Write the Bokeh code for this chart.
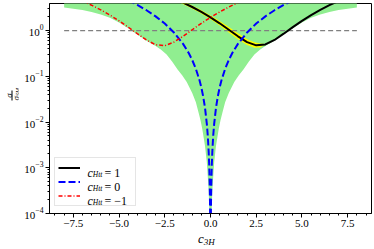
import numpy as np
from bokeh.plotting import figure
from bokeh.layouts import column, row
from bokeh.models import (Range1d, Label, Legend, LegendItem, SingleIntervalTicker,
                          CustomJSTickFormatter, Div)
from bokeh.embed import file_html
from bokeh.resources import INLINE

# ---- data ----
c_black = [-2.0, -1.5, -1.0, -0.5, 0.0, 0.5, 1.0, 1.5, 2.0, 2.5, 3.0, 3.5, 4.0, 4.5,
           5.0, 5.5, 6.0, 6.5, 7.0, 7.5]
v_black = [5.01, 4.09, 3.27, 2.55, 1.94, 1.44, 1.04, 0.748, 0.559, 0.475, 0.496, 0.622,
           0.853, 1.19, 1.63, 2.18, 2.83, 3.58, 4.44, 5.41]

c_blue = [-4.5, -4.0, -3.5, -3.0, -2.5, -2.0, -1.5, -1.2, -1.0, -0.8, -0.6, -0.5, -0.4,
          -0.3, -0.2, -0.15, -0.1, -0.07, -0.05, -0.035, -0.025, -0.015,
          0.015, 0.025, 0.035, 0.05, 0.07, 0.1, 0.15, 0.2, 0.3, 0.4, 0.5, 0.6, 0.8,
          1.0, 1.2, 1.5, 2.0, 2.5, 3.0, 3.5, 4.0, 4.5]
v_blue = [4.60, 3.63, 2.78, 2.04, 1.42, 0.908, 0.511, 0.327, 0.227, 0.145, 0.0817, 0.0568,
          0.0363, 0.0204, 0.00908, 0.00511, 0.00227, 0.00111, 0.000568, 0.000278,
          0.000142, 0.0000511,
          0.0000511, 0.000142, 0.000278, 0.000568, 0.00111, 0.00227, 0.00511, 0.00908,
          0.0204, 0.0363, 0.0568, 0.0817, 0.145, 0.227, 0.327, 0.511, 0.908, 1.42, 2.04,
          2.78, 3.63, 4.60]

c_red = [-7.5, -7.0, -6.5, -6.0, -5.5, -5.0, -4.5, -4.0, -3.5, -3.0, -2.5, -2.0, -1.5,
         -1.0, -0.5, 0.0, 0.5, 1.0, 1.5, 2.0]
v_red = [5.41, 4.44, 3.58, 2.83, 2.18, 1.63, 1.19, 0.853, 0.622, 0.49, 0.465, 0.559,
         0.748, 1.04, 1.44, 1.94, 2.55, 3.27, 4.09, 5.01]

c_band = [-8.0, -7.5, -7.0, -6.5, -6.0, -5.5, -5.0, -4.5, -4.0, -3.5, -3.0, -2.7, -2.4,
          -2.1, -1.8, -1.55, -1.3, -1.0, -0.8, -0.65, -0.55, -0.45, -0.3, -0.2, -0.1,
          -0.05, -0.02,
          0.02, 0.05, 0.1, 0.2, 0.3, 0.45, 0.55, 0.65, 0.8, 1.0, 1.3, 1.55, 1.8, 2.1,
          2.4, 2.7, 3.0, 3.5, 4.0, 4.5, 5.0, 5.5, 6.0, 6.5, 7.0, 7.5, 8.0]
v_band_lo = [3.20, 3.00, 2.80, 2.55, 2.25, 1.90, 1.50, 1.12, 0.82, 0.60, 0.46, 0.38, 0.30,
             0.21, 0.14, 0.105, 0.075, 0.043, 0.027, 0.016, 0.011, 0.007, 0.003, 0.0013,
             0.00032, 0.00008, 0.000013,
             0.000013, 0.00008, 0.00032, 0.0013, 0.003, 0.007, 0.011, 0.016, 0.027,
             0.043, 0.075, 0.105, 0.14, 0.21, 0.30, 0.38, 0.46, 0.60, 0.82, 1.12, 1.50,
             1.90, 2.25, 2.55, 2.80, 3.00, 3.20]
v_band_hi = [20.0] * len(c_band)

c_yel = [-1.8, -1.2, -0.6, 0.0, 0.5, 1.0, 1.5, 2.0, 2.4, 2.7, 3.0]
v_yel_lo = [4.33, 3.31, 2.47, 1.76, 1.29, 0.91, 0.645, 0.482, 0.42, 0.428, 0.486]
v_yel_hi = [4.95, 3.87, 2.93, 2.13, 1.61, 1.19, 0.868, 0.648, 0.555, 0.518, 0.506]

c_ref = [-8.0, 8.0]
v_ref = [1.0, 1.0]

legend_values = ["1", "0", "\u22121"]

SERIF = "Liberation Serif"

p = figure(width=356, height=233, x_range=Range1d(-8.8, 8.8), y_range=Range1d(1e-4, 3.9),
           y_axis_type="log", output_backend="svg", toolbar_location=None,
           min_border_left=31, min_border_right=3, min_border_top=3, min_border_bottom=20)
p.grid.visible = False
p.outline_line_color = "black"
p.outline_line_alpha = 1.0
p.outline_line_width = 1
p.background_fill_color = "white"

p.xaxis.ticker = SingleIntervalTicker(interval=2.5, num_minor_ticks=5)
p.xaxis.formatter = CustomJSTickFormatter(
    code="return (tick < -1e-9 ? '\\u2212' : '') + Math.abs(tick).toFixed(1);")

for ax in (p.xaxis[0], p.yaxis[0]):
    ax.major_tick_out = 4
    ax.major_tick_in = 0
    ax.minor_tick_out = 2
    ax.minor_tick_in = 0
    ax.major_label_text_font = SERIF
    ax.major_label_text_font_size = "11px"
    ax.major_label_text_color = "black"
    ax.major_label_standoff = 2
    ax.axis_line_color = "black"
    ax.major_tick_line_color = "black"
    ax.minor_tick_line_color = "black"

p.varea(x=c_band, y1=v_band_lo, y2=v_band_hi, fill_color="#90ee90")
p.varea(x=c_yel, y1=v_yel_lo, y2=v_yel_hi, fill_color="#ffff00")
p.line(c_ref, v_ref, line_color="#808080", line_width=1.3, line_dash="5 3")
r_black = p.line(c_black, v_black, line_color="black", line_width=2)
r_blue = p.line(c_blue, v_blue, line_color="#0000ff", line_width=2, line_dash="7 3")
r_red = p.line(c_red, v_red, line_color="#ff0000", line_width=1.5, line_dash="4 2 1 2")

legend = Legend(items=[LegendItem(label=" ", renderers=[r]) for r in (r_black, r_blue, r_red)],
                location=(5, 7), padding=3, spacing=1, margin=0,
                glyph_width=22, glyph_height=13, label_height=13, label_width=46,
                label_standoff=6, label_text_font_size="10px",
                border_line_color="#cccccc", border_line_width=1,
                background_fill_color="white", background_fill_alpha=0.0)
p.add_layout(legend)

item_y = [44.5, 30.5, 16.5]
for yy, val in zip(item_y, legend_values):
    p.add_layout(Label(x=38, y=yy - 4, x_units="screen", y_units="screen", text="c",
                       text_font=SERIF, text_font_style="italic", text_font_size="12px",
                       text_color="black", text_baseline="alphabetic", level="overlay"))
    p.add_layout(Label(x=43.3, y=yy - 5.7, x_units="screen", y_units="screen", text="Htt",
                       text_font=SERIF, text_font_style="italic", text_font_size="7.5px",
                       text_color="black", text_baseline="alphabetic", level="overlay"))
    p.add_layout(Label(x=55, y=yy - 4, x_units="screen", y_units="screen", text="= " + val,
                       text_font=SERIF, text_font_size="12px", text_color="black",
                       text_baseline="alphabetic", level="overlay"))

# y axis label: sigma / sigma_SM, rotated
ylab_html = (
    "<div style=\"position:relative; left:5px; top:89px; width:14px; height:13px; "
    "transform:rotate(-90deg); font-family:'Liberation Serif',serif; font-style:italic; "
    "font-size:9px; line-height:6px; text-align:center; color:#000;\">"
    "<div style=\"height:6px;\">\u03c3</div>"
    "<div style=\"height:6px; border-top:1px solid #000; margin:0 2px;\">\u03c3"
    "<span style=\"font-size:6px; position:relative; top:1px;\">SM</span></div>"
    "</div>")
ydiv = Div(text=ylab_html, width=18, height=233, margin=0)

# x axis label: c_{3H}
xlab_html = (
    "<div style=\"position:relative; left:198px; top:-2px; white-space:nowrap; "
    "font-family:'Liberation Serif',serif; color:#000; line-height:13px;\">"
    "<i style=\"font-size:13px;\">c</i>"
    "<i style=\"font-size:9px; position:relative; top:2px;\">3H</i></div>")
xdiv = Div(text=xlab_html, width=374, height=16, margin=0)

layout = column(row(ydiv, p, spacing=0), xdiv, spacing=0)

open("out.html", "w").write(file_html(layout, INLINE))
